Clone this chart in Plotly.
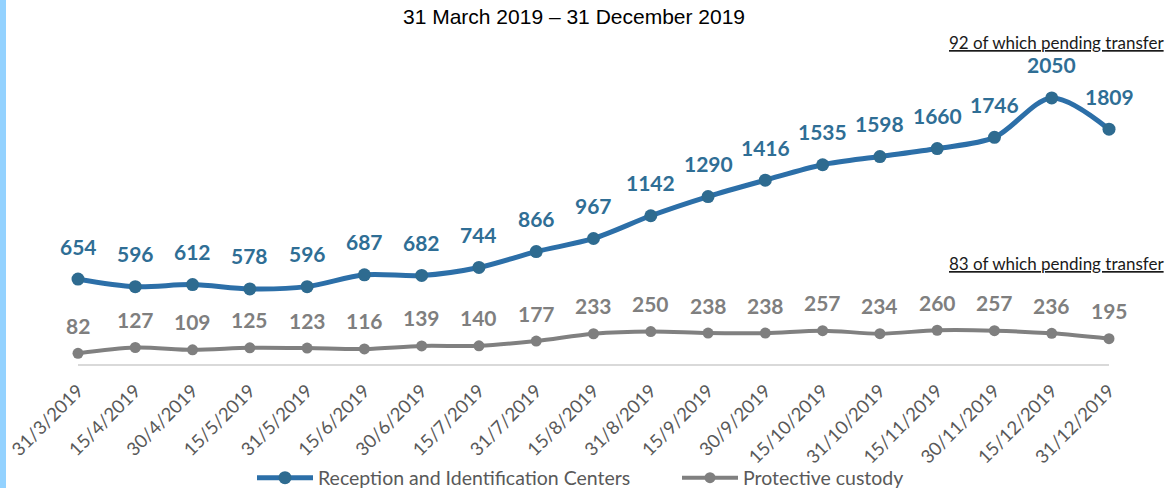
import plotly.graph_objects as go

dates = ["31/3/2019", "15/4/2019", "30/4/2019", "15/5/2019", "31/5/2019", "15/6/2019",
         "30/6/2019", "15/7/2019", "31/7/2019", "15/8/2019", "31/8/2019", "15/9/2019",
         "30/9/2019", "15/10/2019", "31/10/2019", "15/11/2019", "30/11/2019", "15/12/2019",
         "31/12/2019"]
ric = [654, 596, 612, 578, 596, 687, 682, 744, 866, 967, 1142, 1290, 1416, 1535, 1598,
       1660, 1746, 2050, 1809]
custody = [82, 127, 109, 125, 123, 116, 139, 140, 177, 233, 250, 238, 238, 257, 234,
           260, 257, 236, 195]

series_names = ["Reception and Identification Centers", "Protective custody"]
subtitle = "31 March 2019 \u2013 31 December 2019"
note_ric = "92 of which pending transfer"
note_custody = "83 of which pending transfer"

BLUE_LINE = "#2C6FA8"
BLUE_MARK = "#2E6B90"
BLUE_TEXT = "#2F6E95"
GRAY_LINE = "#808080"
GRAY_MARK = "#7F7F7F"
GRAY_TEXT = "#7F7F7F"

W, H = 1167, 488
ML, MR, MT, MB = 78, 58, 60, 124
PW = W - ML - MR
PH = H - MT - MB

fig = go.Figure()
fig.add_trace(go.Scatter(
    x=dates, y=ric, name=series_names[0], mode="lines+markers",
    line=dict(color=BLUE_LINE, width=5, shape="spline", smoothing=0.9),
    marker=dict(color=BLUE_MARK, size=13),
    cliponaxis=False,
))
fig.add_trace(go.Scatter(
    x=dates, y=custody, name=series_names[1], mode="lines+markers",
    line=dict(color=GRAY_LINE, width=4, shape="spline", smoothing=0.9),
    marker=dict(color=GRAY_MARK, size=11),
    cliponaxis=False,
))

annotations = []
for d, v in zip(dates, ric):
    annotations.append(dict(x=d, y=v, text=str(v), showarrow=False, yshift=33,
                            yanchor="middle", xanchor="center",
                            font=dict(family="Lato", size=21, color=BLUE_TEXT, weight="bold")))
for d, v in zip(dates, custody):
    annotations.append(dict(x=d, y=v, text=str(v), showarrow=False, yshift=28,
                            yanchor="middle", xanchor="center",
                            font=dict(family="Lato", size=21, color=GRAY_TEXT, weight="bold")))

annotations.append(dict(xref="paper", yref="paper", x=(574 - ML) / PW, y=(H - MB - 17) / PH,
                        text=subtitle, showarrow=False, xanchor="center", yanchor="middle",
                        font=dict(family="Liberation Sans", size=21, color="#000000")))
annotations.append(dict(xref="paper", yref="paper", x=(1166 - ML) / PW, y=(H - MB - 43) / PH,
                        text="<u>" + note_ric + "</u>", showarrow=False, xanchor="right",
                        yanchor="middle",
                        font=dict(family="Lato", size=17, color="#1a1a1a")))
annotations.append(dict(xref="paper", yref="paper", x=(1166 - ML) / PW, y=(H - MB - 263) / PH,
                        text="<u>" + note_custody + "</u>", showarrow=False, xanchor="right",
                        yanchor="middle",
                        font=dict(family="Lato", size=17, color="#1a1a1a")))

shapes = [dict(type="rect", xref="paper", yref="paper",
               x0=-ML / PW, x1=(6 - ML) / PW, y0=-MB / PH, y1=(PH + MT) / PH,
               fillcolor="#93D2FF", line=dict(width=0), layer="below")]

fig.update_layout(
    width=W, height=H,
    margin=dict(l=ML, r=MR, t=MT, b=MB, autoexpand=False),
    paper_bgcolor="white", plot_bgcolor="white",
    showlegend=True,
    legend=dict(orientation="h", x=(252 - ML) / PW, xanchor="left", y=(H - MB - 478) / PH,
                yanchor="middle", font=dict(family="Lato", size=19.5, color="#595959"),
                bgcolor="rgba(0,0,0,0)", itemwidth=56,
                entrywidth=354, entrywidthmode="pixels"),
    annotations=annotations,
    shapes=shapes,
    xaxis=dict(type="category", range=[0, 18], showgrid=False, zeroline=False,
               showline=True, linecolor="#D9D9D9", linewidth=1.5, automargin=False,
               tickangle=-45, ticks="", ticklen=0, ticklabelstandoff=7,
               tickfont=dict(family="Lato", size=18.5, color="#595959")),
    yaxis=dict(range=[0, 2342], visible=False, showgrid=False, zeroline=False,
               automargin=False),
)

fig.write_html("out.html", config={"displayModeBar": False},
               post_script="document.body.style.margin='0';document.body.style.padding='0';")
